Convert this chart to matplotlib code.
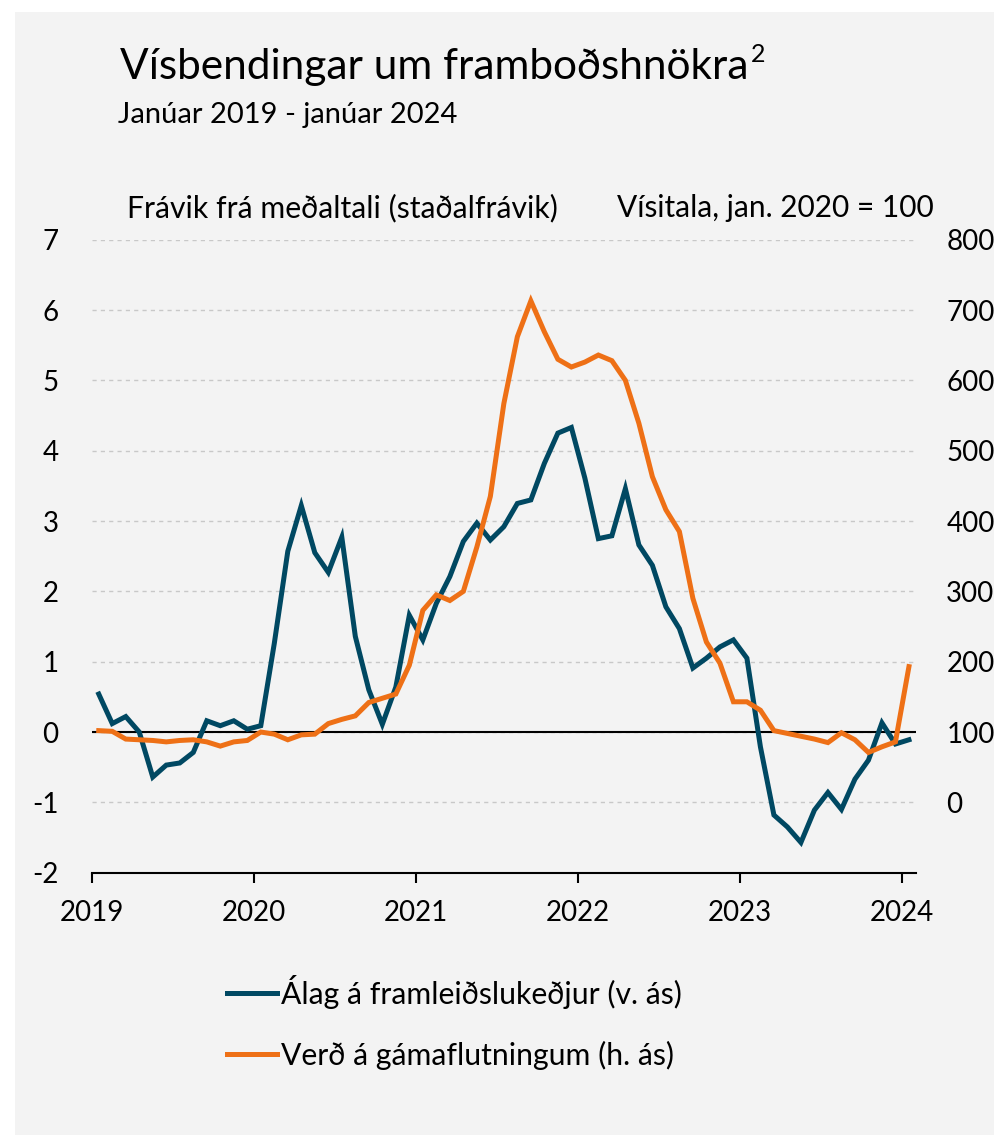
import matplotlib
matplotlib.use("Agg")
import matplotlib.pyplot as plt
from matplotlib.lines import Line2D
from matplotlib.patches import Rectangle
import numpy as np

plt.rcParams["font.family"] = ["Lato", "DejaVu Sans"]
plt.rcParams["axes.unicode_minus"] = False

# monthly data, jan 2019 - jan 2024
year_labels = ["2019", "2020", "2021", "2022", "2023", "2024"]

supply_stress = [
    0.54, 0.12, 0.22, 0.00, -0.64, -0.47, -0.44, -0.29, 0.16, 0.09, 0.16, 0.04,
    0.09, 1.26, 2.57, 3.22, 2.55, 2.27, 2.77, 1.36, 0.60, 0.11, 0.64, 1.66,
    1.31, 1.83, 2.21, 2.71, 2.97, 2.73, 2.92, 3.25, 3.30, 3.82, 4.25, 4.33,
    3.61, 2.75, 2.79, 3.46, 2.66, 2.37, 1.78, 1.47, 0.91, 1.05, 1.21, 1.31,
    1.05, -0.21, -1.18, -1.35, -1.57, -1.11, -0.86, -1.10, -0.67, -0.40, 0.13, -0.17,
    -0.11,
]

container_index = [
    102, 101, 90, 89, 88, 86, 88, 89, 86, 80, 86, 88,
    100, 97, 89, 96, 97, 112, 118, 123, 142, 148, 154, 195,
    273, 295, 287, 300, 363, 435, 567, 662, 713, 669, 630, 619,
    626, 636, 628, 600, 539, 463, 416, 385, 290, 228, 198, 143,
    143, 131, 102, 98, 94, 90, 85, 99, 89, 71, 79, 86,
    193,
]

blue = "#004862"
orange = "#ee7016"

W, H = 995, 1138
fig = plt.figure(figsize=(W / 100, H / 100), dpi=100)
fig.patch.set_facecolor("white")
fig.patches.append(Rectangle((15 / W, 3 / H), 1 - 15 / W, 1 - 15 / H,
                             transform=fig.transFigure, facecolor="#f3f3f3",
                             edgecolor="none", zorder=-10))

ax = fig.add_axes([92 / W, 1 - 872.7 / H, 823.7 / W, 633 / H])
ax.set_facecolor("none")

x = np.arange(len(supply_stress)) + 0.5

ax.set_xlim(0, 61)
ax.set_ylim(-2, 7)
ax.set_yticks(range(-2, 8))
ax.yaxis.grid(True, color="#c8c8c8", linestyle=(0, (3, 3)), linewidth=1)
ax.set_axisbelow(True)
ax.axhline(0, color="black", linewidth=1.5, zorder=1)
ax.plot(x, supply_stress, color=blue, linewidth=3.6, zorder=3,
        solid_joinstyle="miter")

ax.set_xticks(np.arange(0, 61, 12))
ax.set_xticklabels(year_labels)
for side in ["left", "right", "top"]:
    ax.spines[side].set_visible(False)
ax.spines["bottom"].set_linewidth(1.5)
ax.tick_params(axis="x", length=7, width=1.5, pad=13, labelsize=20)
ax.tick_params(axis="y", length=0, pad=24, labelsize=20)

ax2 = ax.twinx()
ax2.set_ylim(-100, 800)
ax2.set_yticks(range(0, 801, 100))
for side in ["left", "right", "top", "bottom"]:
    ax2.spines[side].set_visible(False)
ax2.tick_params(axis="y", length=0, pad=22, labelsize=20)
ax2.plot(x, container_index, color=orange, linewidth=3.6, zorder=4,
         solid_joinstyle="miter")

title = fig.text(120 / W, 1 - 79 / H, "Vísbendingar um framboðshnökra", fontsize=30.5,
                 ha="left", va="baseline")
fig.canvas.draw()
tb = title.get_window_extent()
fig.text(tb.x1 / W + 2 / W, 1 - 62 / H, "2", fontsize=18, ha="left", va="baseline")

fig.text(118 / W, 1 - 123 / H, "Janúar 2019 - janúar 2024", fontsize=21,
         ha="left", va="baseline")
fig.text(127 / W, 1 - 208 / H, "Frávik frá meðaltali (staðalfrávik)", fontsize=21.7,
         ha="left", va="center")
fig.text(934 / W, 1 - 208 / H, "Vísitala, jan. 2020 = 100", fontsize=21.5,
         ha="right", va="center")

handles = [Line2D([], [], color=blue, linewidth=3.6),
           Line2D([], [], color=orange, linewidth=3.6)]
labels = ["Álag á framleiðslukeðjur (v. ás)", "Verð á gámaflutningum (h. ás)"]
fig.legend(handles, labels, loc="upper left", bbox_to_anchor=(227 / W, 1 - 975 / H),
           frameon=False, fontsize=21.7, handlelength=1.65, handletextpad=0.15,
           labelspacing=1.05, borderpad=0, borderaxespad=0)

fig.savefig("out.png", dpi=100, facecolor=fig.get_facecolor())
